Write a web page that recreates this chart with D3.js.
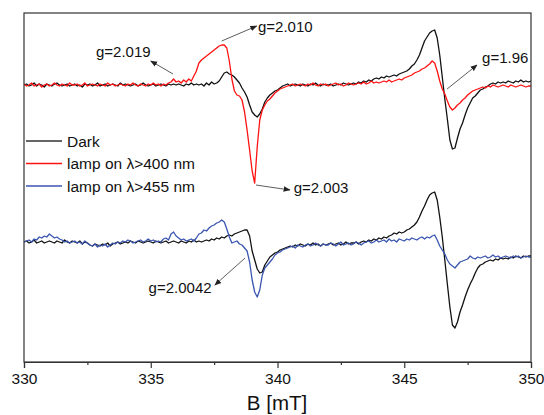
<!DOCTYPE html>
<html>
<head>
<meta charset="utf-8">
<script src="https://cdn.jsdelivr.net/npm/d3@7"></script>
<style>
  body { margin: 0; background: #fff; }
  svg { font-family: Arial, "Liberation Sans", sans-serif; }
</style>
</head>
<body>
<div id="chart"></div>
<script>
// field axis, 0.1 mT steps from 330 to 350
var B_START = 330, B_STEP = 0.1;

// EPR signals (a.u.), relative to each trace's own baseline
var darkTop = [
  0, 1, -1, 0, 2, -1, 1, 0, -2, 1,
  0, -1, 1, 2, 0, -1, 0, 1, -1, 0,
  1, -1, 0, -2, 1, 0, 1, -1, 0, 2,
  -1, 0, 1, -1, 0, 1, 0, -1, 2, 0,
  1, 0, -1, 0, 1, -1, 0, 2, 0, -1,
  0, 1, -1, 0, 1, 0, -1, 1, 0, 1,
  0, 1, 0, -1, 1, 0, 2, 0, 1, 0,
  1, -1, 2, 0, 3, 1, 2, 4, 8, 12,
  13, 11, 10, 8, 5, 2, -3, -7, -12, -20,
  -27, -30, -32, -29, -24, -17, -13, -10, -8, -6,
  -5, -3, -1, 0, 1, -1, 0, 1, 0, -1,
  1, 0, -1, 1, 0, 2, 0, -1, 1, 0,
  0, 1, -1, 0, 1, 0, 2, 1, 0, 1,
  2, 1, 3, 2, 4, 3, 5, 4, 6, 7,
  6, 8, 7, 9, 8, 9, 10, 9, 11, 12,
  13, 14, 16, 19, 21, 25, 30, 37, 44, 48,
  52, 54, 55, 47, 30, 8, -14, -34, -55, -64,
  -63, -53, -44, -38, -30, -23, -18, -13, -11, -8,
  -5, -4, -2, -1, 1, 2, 1, 3, 2, 3,
  2, 4, 3, 2, 4, 3, 5, 3, 4, 3,
  4
];
var lamp400Top = [
  1, -1, 0, 2, -1, 0, 1, -2, 0, 1,
  -1, 0, 2, 0, -1, 1, 0, -1, 2, 0,
  0, 1, -1, 0, 2, -1, 0, 1, 0, -1,
  1, 0, -1, 2, 0, 1, -1, 0, 1, 0,
  -1, 1, 0, 2, 0, -1, 1, 0, -1, 1,
  0, 2, 0, 1, -1, 1, 0, 2, 3, 6,
  3, 4, 2, 5, 3, 6, 4, 9, 14, 22,
  25, 27, 29, 31, 33, 35, 37, 39, 40, 40,
  37, 24, 6, -6, -10, -11, -15, -27, -45, -65,
  -86, -98, -62, -35, -25, -20, -16, -14, -11, -8,
  -6, -4, -3, -2, -1, 0, 1, -1, 0, 1,
  0, -1, 1, 0, 2, 0, -1, 1, 0, 1,
  -1, 0, 1, 2, 0, 1, -1, 0, 2, 1,
  0, 1, 2, 1, 3, 1, 2, 4, 2, 3,
  2, 3, 4, 3, 5, 3, 4, 5, 6, 5,
  7, 8, 9, 10, 12, 13, 14, 16, 17, 19,
  21, 24, 22, 14, 4, -4, -9, -16, -22, -25,
  -23, -20, -18, -15, -13, -10, -8, -6, -5, -4,
  -3, -2, -3, -1, -2, 0, -1, -2, -1, 0,
  -1, -2, 0, -1, -2, -1, 0, -1, -2, -1,
  -1
];
var darkBottom = [
  0, 1, -1, 0, 2, -1, 0, 1, -1, 0,
  1, 0, -1, 1, 0, -1, 2, 0, -1, 1,
  0, -1, 1, -2, 0, -1, -3, -4, -2, -3,
  -4, -2, -3, -1, -4, -2, -1, 0, -2, -1,
  0, -1, 1, 0, -1, 1, 0, -1, 0, 1,
  0, -1, 1, 0, -1, 0, 1, -1, 0, 1,
  0, -1, 1, 0, -1, 1, 0, 2, 0, 1,
  0, 1, 2, 1, 3, 2, 4, 3, 5, 4,
  6, 7, 6, 8, 9, 10, 11, 12, 12, 6,
  -9, -18, -27, -31, -30, -23, -19, -15, -13, -11,
  -10, -8, -7, -6, -5, -4, -5, -3, -4, -2,
  -3, -4, -2, -3, -1, -3, -2, -4, -2, -3,
  -2, -1, -3, -2, -1, -3, -2, 0, -2, -1,
  -1, 0, -2, 0, 1, 0, 2, 1, 3, 2,
  4, 3, 5, 4, 6, 7, 9, 8, 10, 9,
  10, 12, 13, 15, 17, 20, 25, 31, 36, 42,
  47, 49, 50, 42, 25, 5, -18, -42, -65, -83,
  -86, -80, -70, -63, -55, -48, -42, -37, -31, -26,
  -23, -22, -20, -19, -18, -19, -17, -18, -16, -17,
  -16, -17, -15, -16, -14, -15, -16, -14, -15, -14,
  -14
];
var lamp455Bottom = [
  0, 1, 2, 0, 3, 2, 5, 4, 6, 5,
  8, 6, 4, 5, 3, 2, 0, 1, -1, 0,
  1, -1, 0, -2, 1, -1, -3, -4, -2, -5,
  -3, -4, -2, -5, -3, -1, -2, 0, -1, 1,
  0, 2, 1, -1, 0, 1, 2, 0, 1, 3,
  1, 2, 0, 1, 0, 3, 4, 2, 8, 10,
  6, 4, 2, 3, 1, 2, 3, 1, 4, 8,
  9, 12, 11, 14, 16, 17, 19, 20, 22, 20,
  13, 5, -1, 0, 1, -2, -3, -6, -9, -20,
  -38, -50, -55, -48, -33, -26, -23, -20, -17, -13,
  -11, -10, -8, -7, -6, -5, -4, -6, -3, -4,
  -5, -3, -2, -4, -3, -1, -3, -4, -2, -3,
  -3, -1, -2, -4, -2, 0, -3, -2, -1, -3,
  -2, 0, -1, -3, -1, 0, 1, -1, 0, 2,
  0, 1, 2, 0, 3, 1, 2, 0, 3, 2,
  1, 3, 2, 4, 3, 2, 4, 5, 3, 5,
  4, 6, 7, 2, -4, -8, -12, -18, -22, -24,
  -26, -23, -20, -19, -18, -17, -14, -16, -17, -15,
  -16, -15, -14, -16, -15, -13, -15, -14, -16, -15,
  -14, -15, -16, -14, -15, -14, -16, -15, -14, -15,
  -15
];

// stacking offsets of the two groups of traces
var OFFSET_TOP = 277, OFFSET_BOTTOM = 120;

var series = [
  {name: 'Dark', color: '#111111', values: darkTop, offset: OFFSET_TOP, legend: true},
  {name: 'lamp on \u03bb>400 nm', color: '#ff1111', values: lamp400Top, offset: OFFSET_TOP, legend: true},
  {name: 'lamp on \u03bb>455 nm', color: '#3a55b0', values: lamp455Bottom, offset: OFFSET_BOTTOM, legend: true},
  {name: 'Dark', color: '#111111', values: darkBottom, offset: OFFSET_BOTTOM, legend: false}
];
// draw order: dark first, lamps on top
var drawOrder = [0, 3, 1, 2];

var xTicks = [330, 335, 340, 345, 350];
var xMinorTicks = [332.5, 337.5, 342.5, 347.5];

// g-factor labels: arrow tail, arrow head and text anchor in data units
var notes = [
  {text: 'g=2.019', from: [335.88, 288], to: [335.0, 301], at: [332.84, 305], anchor: 'start'},
  {text: 'g=2.010', from: [337.8, 321], to: [339.18, 336], at: [339.23, 330], anchor: 'start'},
  {text: 'g=2.003', from: [339.15, 177], to: [340.49, 172], at: [340.64, 169], anchor: 'start'},
  {text: 'g=1.96', from: [346.69, 273], to: [347.87, 297], at: [348.07, 299], anchor: 'start'},
  {text: 'g=2.0042', from: [338.72, 104], to: [337.53, 77], at: [337.4, 69], anchor: 'end'}
];

var W = 544, H = 415;
var margin = {top: 13, right: 13, bottom: 53, left: 24};
var width = W - margin.left - margin.right;
var height = H - margin.top - margin.bottom;

var svg = d3.select('#chart').append('svg')
    .attr('width', W)
    .attr('height', H);

var defs = svg.append('defs');
defs.append('marker')
    .attr('id', 'arrow')
    .attr('viewBox', '0 0 10 10')
    .attr('refX', 9)
    .attr('refY', 5)
    .attr('markerWidth', 7)
    .attr('markerHeight', 7)
    .attr('markerUnits', 'userSpaceOnUse')
    .attr('orient', 'auto')
  .append('path')
    .attr('d', 'M0,1 L10,5 L0,9 Z')
    .attr('fill', '#222');

defs.append('clipPath').attr('id', 'clip')
  .append('rect')
    .attr('width', width)
    .attr('height', height);

var g = svg.append('g')
    .attr('transform', 'translate(' + margin.left + ',' + margin.top + ')');

var x = d3.scaleLinear().domain([330, 350]).range([0, width]);
var y = d3.scaleLinear().domain([0, 349]).range([height, 0]);

var line = d3.line()
    .x(function (d, i) { return x(B_START + i * B_STEP); })
    .y(function (d) { return y(d); });

var plot = g.append('g').attr('clip-path', 'url(#clip)');
drawOrder.forEach(function (k) {
  var s = series[k];
  plot.append('path')
      .datum(s.values.map(function (v) { return v + s.offset; }))
      .attr('fill', 'none')
      .attr('stroke', s.color)
      .attr('stroke-width', 1.3)
      .attr('stroke-linejoin', 'round')
      .attr('d', line);
});

// frame
g.append('rect')
    .attr('width', width)
    .attr('height', height)
    .attr('fill', 'none')
    .attr('stroke', '#333')
    .attr('stroke-width', 1.2);

// x axis
var xAxis = g.append('g')
    .attr('transform', 'translate(0,' + height + ')')
    .call(d3.axisBottom(x).tickValues(xTicks).tickSize(6).tickPadding(5)
        .tickFormat(d3.format('d')));
xAxis.select('.domain').attr('stroke', '#333').attr('stroke-width', 1.2);
xAxis.selectAll('.tick line').attr('stroke', '#333').attr('stroke-width', 1.2);
xAxis.selectAll('.tick text')
    .attr('fill', '#111')
    .style('font-size', '15.5px');

var minor = g.append('g')
    .attr('transform', 'translate(0,' + height + ')')
    .call(d3.axisBottom(x).tickValues(xMinorTicks).tickSize(3).tickFormat(''));
minor.select('.domain').remove();
minor.selectAll('.tick line').attr('stroke', '#333').attr('stroke-width', 1.2);

g.append('text')
    .attr('x', width / 2 - 0.5)
    .attr('y', height + 48)
    .attr('text-anchor', 'middle')
    .attr('fill', '#111')
    .style('font-size', '20.5px')
    .text('B [mT]');

// annotations
var ann = g.append('g');
notes.forEach(function (n) {
  ann.append('line')
      .attr('x1', x(n.from[0])).attr('y1', y(n.from[1]))
      .attr('x2', x(n.to[0])).attr('y2', y(n.to[1]))
      .attr('stroke', '#333')
      .attr('stroke-width', 0.8)
      .attr('marker-end', 'url(#arrow)');
  ann.append('text')
      .attr('x', x(n.at[0]))
      .attr('y', y(n.at[1]))
      .attr('text-anchor', n.anchor)
      .attr('fill', '#111')
      .style('font-size', '15px')
      .text(n.text);
});

// legend
var legendItems = series.filter(function (s) { return s.legend; });
var legend = g.append('g').attr('transform', 'translate(2,128)');
legendItems.forEach(function (s, i) {
  var row = legend.append('g').attr('transform', 'translate(0,' + (i * 22.5) + ')');
  row.append('line')
      .attr('x1', 0).attr('x2', 36)
      .attr('stroke', s.color === '#111111' ? '#333' : s.color)
      .attr('stroke-width', 1.5);
  row.append('text')
      .attr('x', 41)
      .attr('dy', '0.36em')
      .attr('fill', '#111')
      .style('font-size', '15.5px')
      .text(s.name);
});
</script>
</body>
</html>
